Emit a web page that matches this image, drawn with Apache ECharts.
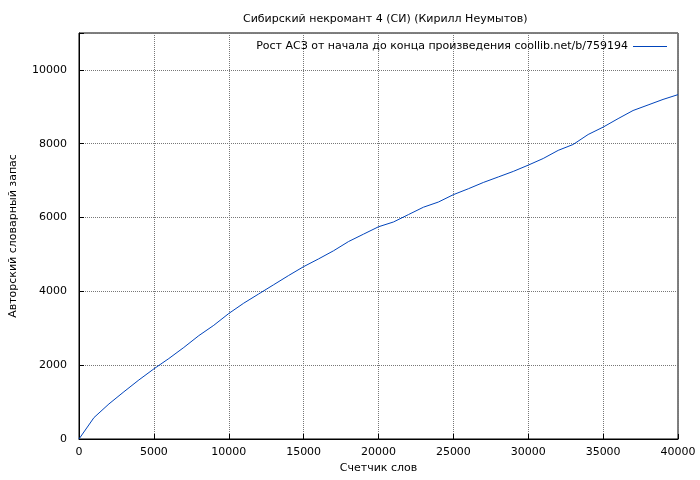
<!DOCTYPE html>
<html><head><meta charset="utf-8">
<script src="https://cdn.jsdelivr.net/npm/echarts@6/dist/echarts.min.js"></script>
<style>html,body{margin:0;padding:0;background:#fff}#c{width:700px;height:480px}</style>
</head><body><div id="c"></div>
<script>
const words = [0,1000,2000,3000,4000,5000,6000,7000,8000,9000,10000,11000,12000,13000,14000,15000,16000,17000,18000,19000,20000,21000,22000,23000,24000,25000,26000,27000,28000,29000,30000,31000,32000,33000,34000,35000,36000,37000,38000,39000,40000];
const vocab = [0,580,950,1280,1600,1900,2180,2480,2800,3080,3400,3680,3930,4180,4430,4670,4880,5100,5350,5550,5750,5880,6080,6280,6420,6620,6780,6950,7100,7250,7420,7600,7820,7980,8250,8450,8680,8900,9050,9200,9330];
const titleText = 'Сибирский некромант 4 (СИ) (Кирилл Неумытов)';
const seriesName = 'Рост АСЗ от начала до конца произведения coollib.net/b/759194';
const chart = echarts.init(document.getElementById('c'));
const ax = {color:'#000',fontSize:11,fontFamily:'DejaVu Sans'};
chart.setOption({
  animation:false,
  title:{text:titleText,left:238,top:9,textStyle:{fontSize:11,fontWeight:'normal',color:'#000',fontFamily:'DejaVu Sans'}},
  legend:{data:[seriesName],right:28,top:36,align:'right',itemWidth:34,itemHeight:1,icon:'rect',textStyle:ax},
  grid:{left:75,right:22,top:33,bottom:41,show:true,borderColor:'#000',borderWidth:1},
  xAxis:{type:'value',min:0,max:40000,interval:5000,name:'Счетчик слов',nameLocation:'middle',nameGap:22,nameTextStyle:ax,
    axisLine:{lineStyle:{color:'#000'}},axisTick:{inside:true,lineStyle:{color:'#000'}},
    axisLabel:Object.assign({formatter:v=>String(v)},ax),
    splitLine:{lineStyle:{type:'dotted',color:'#777'}}},
  yAxis:{type:'value',min:0,max:11000,interval:2000,name:'Авторский словарный запас',nameLocation:'middle',nameGap:60,nameTextStyle:ax,
    axisLine:{show:true,lineStyle:{color:'#000'}},axisTick:{show:true,inside:true,lineStyle:{color:'#000'}},
    axisLabel:Object.assign({formatter:v=>v===11000?'':String(v),margin:12},ax),
    splitLine:{lineStyle:{type:'dotted',color:'#777'}}},
  series:[{name:seriesName,type:'line',data:words.map((w,i)=>[w,vocab[i]]),showSymbol:false,smooth:false,
    lineStyle:{color:'#0044bb',width:1},itemStyle:{color:'#0044bb'}}]
});
</script></body></html>
